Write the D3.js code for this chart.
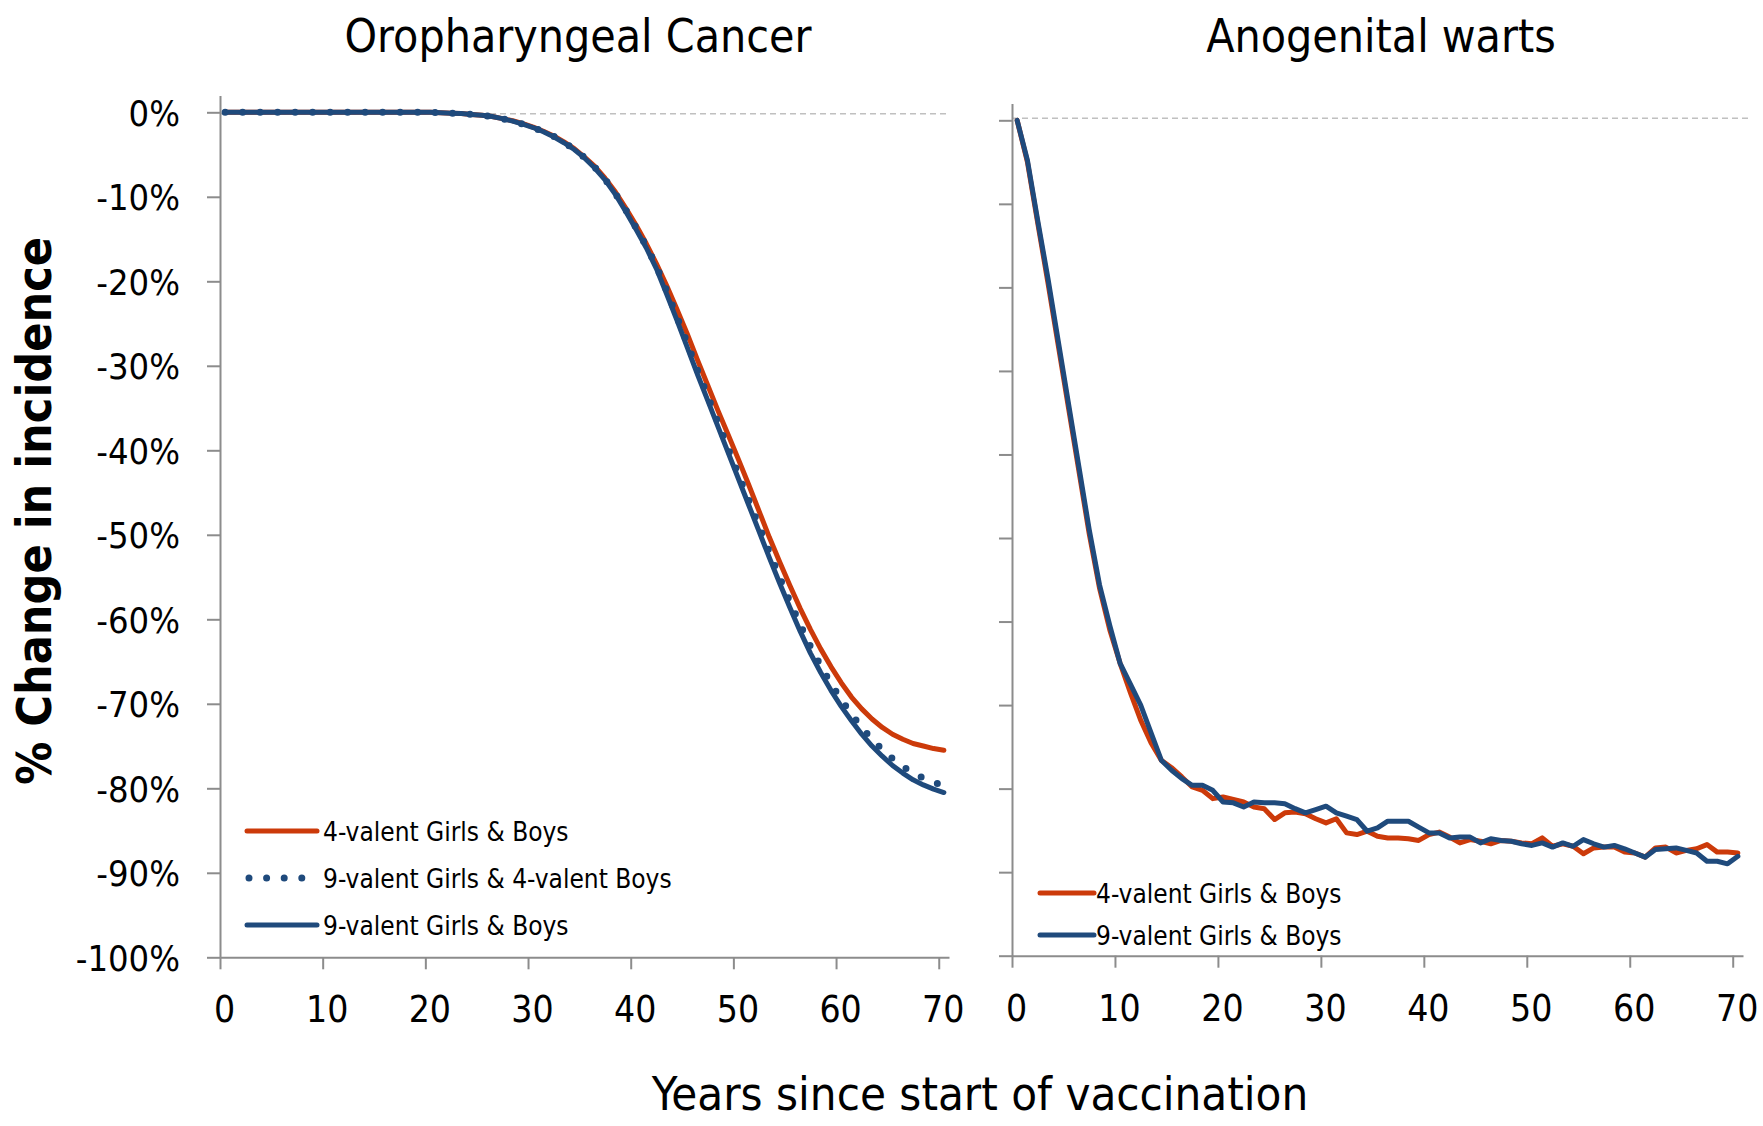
<!DOCTYPE html>
<html>
<head>
<meta charset="utf-8">
<script src="https://d3js.org/d3.v7.min.js"></script>
<style>
body { margin:0; background:#ffffff; }
svg text {
	font-family: "DejaVu Sans Condensed", "DejaVu Sans", sans-serif;
	font-stretch: condensed;
	fill: #000000;
}
</style>
</head>
<body>
<svg id="viz" width="1763" height="1126"></svg>
<script>
// years are mid-year points, 0.5 .. 70.5
var years = [0.5,1.5,2.5,3.5,4.5,5.5,6.5,7.5,8.5,9.5,10.5,11.5,12.5,13.5,14.5,15.5,16.5,17.5,18.5,19.5,
	20.5,21.5,22.5,23.5,24.5,25.5,26.5,27.5,28.5,29.5,30.5,31.5,32.5,33.5,34.5,35.5,36.5,37.5,38.5,39.5,
	40.5,41.5,42.5,43.5,44.5,45.5,46.5,47.5,48.5,49.5,50.5,51.5,52.5,53.5,54.5,55.5,56.5,57.5,58.5,59.5,
	60.5,61.5,62.5,63.5,64.5,65.5,66.5,67.5,68.5,69.5,70.5];

var xTicks = [0,10,20,30,40,50,60,70];
var yTicks = [0,-10,-20,-30,-40,-50,-60,-70,-80,-90,-100];

// Oropharyngeal cancer, % change
var opc4v = [0,0,0,0,0,0,0,0,0,0,0,0,0,0,0,0,0,0,0,0,0,
	-0.05,-0.1,-0.15,-0.25,-0.35,-0.5,-0.75,-1.0,-1.35,-1.75,-2.25,-2.8,-3.5,-4.3,-5.3,-6.4,-7.8,-9.4,-11.3,-13.3,
	-15.5,-17.9,-20.5,-23.3,-26.2,-29.3,-32.3,-35.3,-38.2,-41.1,-44.1,-47.2,-50.3,-53.2,-56.0,-58.7,-61.2,-63.5,-65.6,-67.5,
	-69.2,-70.6,-71.8,-72.8,-73.6,-74.2,-74.7,-75.0,-75.3,-75.5];
var opc9g4b = [0,0,0,0,0,0,0,0,0,0,0,0,0,0,0,0,0,0,0,0,0,
	-0.05,-0.1,-0.15,-0.25,-0.35,-0.5,-0.75,-1.05,-1.4,-1.8,-2.3,-2.85,-3.55,-4.35,-5.35,-6.5,-7.9,-9.6,-11.5,-13.6,
	-15.8,-18.2,-21.1,-24.2,-27.3,-30.5,-33.6,-36.7,-39.8,-42.9,-45.9,-49.0,-52.0,-55.0,-57.9,-60.6,-63.2,-65.5,-67.6,-69.5,
	-71.2,-72.8,-74.2,-75.4,-76.5,-77.4,-78.2,-78.8,-79.3,-79.7];
var opc9v = [0,0,0,0,0,0,0,0,0,0,0,0,0,0,0,0,0,0,0,0,0,
	-0.05,-0.1,-0.15,-0.25,-0.35,-0.5,-0.75,-1.05,-1.4,-1.8,-2.3,-2.9,-3.6,-4.4,-5.4,-6.6,-8.0,-9.7,-11.7,-13.8,
	-16.0,-18.5,-21.5,-24.6,-27.8,-31.0,-34.1,-37.2,-40.3,-43.4,-46.5,-49.6,-52.7,-55.7,-58.6,-61.4,-64.0,-66.3,-68.4,-70.3,
	-72.0,-73.6,-75.0,-76.2,-77.3,-78.2,-79.0,-79.6,-80.1,-80.5];

// Anogenital warts, % change
var aw4v = [0,-5.0,-12.3,-19.5,-27,-34.5,-42,-49.5,-56,-61,-65,-68.5,-71.8,-74.5,-76.6,-77.5,-78.6,-79.8,-80.2,-81.2,
	-81.0,-81.3,-81.6,-82.2,-82.4,-83.7,-82.9,-82.8,-83.0,-83.6,-84.1,-83.6,-85.3,-85.5,-85.1,-85.7,-85.9,-85.9,-86.0,-86.2,
	-85.5,-85.2,-85.8,-86.5,-86.1,-86.3,-86.6,-86.2,-86.3,-86.5,-86.6,-85.9,-86.9,-86.6,-86.9,-87.8,-87.1,-87.0,-87.0,-87.6,
	-87.7,-88.2,-87.1,-87.0,-87.7,-87.4,-87.2,-86.7,-87.6,-87.6,-87.7];
var aw9v = [0,-4.8,-12,-19,-26.5,-34,-41.5,-49,-55.6,-60.5,-65,-67.5,-70,-73.3,-76.6,-77.8,-78.8,-79.6,-79.6,-80.2,
	-81.6,-81.7,-82.2,-81.6,-81.7,-81.7,-81.8,-82.4,-82.9,-82.5,-82.1,-82.9,-83.3,-83.7,-85.1,-84.7,-83.9,-83.9,-83.9,-84.6,
	-85.3,-85.3,-85.9,-85.8,-85.8,-86.5,-86.0,-86.2,-86.3,-86.6,-86.8,-86.5,-87.0,-86.5,-86.9,-86.1,-86.6,-87.0,-86.8,-87.2,
	-87.7,-88.2,-87.3,-87.2,-87.1,-87.4,-87.7,-88.7,-88.7,-89.0,-88.1];

var titles = ["Oropharyngeal Cancer", "Anogenital warts"];
var seriesNames = ["4-valent Girls & Boys", "9-valent Girls & 4-valent Boys", "9-valent Girls & Boys"];

var RED = "#cc3a0a", BLUE = "#1f4a7c", AXIS = "#8c8c8c";

var svg = d3.select("#viz");

function drawPanel(opt) {
	var x = d3.scaleLinear().domain([0,71]).range(opt.xr);
	var y = d3.scaleLinear().domain([-100,2]).range(opt.yr);
	var g = svg.append("g");

	// zero reference line
	g.append("line")
		.attr("x1", x(0)).attr("x2", x(71) + opt.zeroExtra)
		.attr("y1", y(0) + opt.zeroShift).attr("y2", y(0) + opt.zeroShift)
		.attr("stroke", "#c0c0c0").attr("stroke-width", 1.6).attr("stroke-dasharray", "6,4");

	var xAxis = d3.axisBottom(x).tickValues(xTicks).tickSize(12).tickSizeOuter(0).tickFormat(d3.format("d"));
	var yAxis = d3.axisLeft(y).tickValues(yTicks).tickSize(13).tickSizeOuter(0)
		.tickFormat(opt.yLabels ? function(d) { return d + "%"; } : function() { return ""; });

	var gx = g.append("g").attr("transform", "translate(0," + y(-100) + ")").call(xAxis);
	var gy = g.append("g").attr("transform", "translate(" + x(0) + ",0)").call(yAxis);
	[gx, gy].forEach(function(a) {
		a.select(".domain").attr("stroke", AXIS).attr("stroke-width", 2);
		a.selectAll(".tick line").attr("stroke", AXIS).attr("stroke-width", 2);
	});
	gx.selectAll(".tick text").attr("y", 65).attr("dy", 0).attr("dx", 4)
		.attr("font-size", 37).attr("font-family", null);
	gy.selectAll(".tick text").attr("x", -40).attr("dy", "0.36em")
		.attr("font-size", 36).attr("font-family", null);

	var line = d3.line().x(function(d) { return x(d[0]); }).y(function(d) { return y(d[1]); });
	opt.series.forEach(function(s) {
		var p = g.append("path")
			.attr("d", line(d3.zip(years, s.values)))
			.attr("fill", "none").attr("stroke", s.color)
			.attr("stroke-linejoin", "round");
		if (s.dotted) {
			p.attr("stroke-width", 7).attr("stroke-linecap", "round").attr("stroke-dasharray", "0,17.5");
		} else {
			p.attr("stroke-width", 5).attr("stroke-linecap", "round");
		}
	});

	svg.append("text").text(opt.title)
		.attr("x", opt.titleX).attr("y", 52)
		.attr("text-anchor", "middle").attr("font-size", 46);

	// legend
	var lg = g.append("g");
	opt.legend.forEach(function(s, i) {
		var ly = opt.legendY + i * opt.legendGap;
		var l = lg.append("line")
			.attr("x1", opt.legendX0).attr("x2", opt.legendX1)
			.attr("y1", ly).attr("y2", ly)
			.attr("stroke", s.color).attr("stroke-linecap", "round");
		if (s.dotted) {
			l.attr("stroke-width", 7).attr("stroke-dasharray", "0,17.6").attr("x1", opt.legendX0 + 2);
		} else {
			l.attr("stroke-width", 5);
		}
		lg.append("text").text(s.name)
			.attr("x", opt.legendTextX).attr("y", ly + 9.5)
			.attr("font-size", 26);
	});
}

drawPanel({
	xr: [220, 949], yr: [957.3, 95.4], title: titles[0], titleX: 578,
	yLabels: true, zeroShift: 1.5, zeroExtra: 1,
	series: [
		{values: opc4v, color: RED},
		{values: opc9v, color: BLUE},
		{values: opc9g4b, color: BLUE, dotted: true}
	],
	legend: [
		{name: seriesNames[0], color: RED},
		{name: seriesNames[1], color: BLUE, dotted: true},
		{name: seriesNames[2], color: BLUE}
	],
	legendY: 831, legendGap: 47, legendX0: 247, legendX1: 317, legendTextX: 323
});

drawPanel({
	xr: [1012, 1743], yr: [955.7, 103.6], title: titles[1], titleX: 1381,
	yLabels: false, zeroShift: -2, zeroExtra: 6,
	series: [
		{values: aw4v, color: RED},
		{values: aw9v, color: BLUE}
	],
	legend: [
		{name: seriesNames[0], color: RED},
		{name: seriesNames[2], color: BLUE}
	],
	legendY: 893, legendGap: 42, legendX0: 1040, legendX1: 1094, legendTextX: 1096
});

svg.append("text").text("% Change in incidence")
	.attr("transform", "translate(51,511) rotate(-90)")
	.attr("text-anchor", "middle").attr("font-size", 48).attr("font-weight", "bold");

svg.append("text").text("Years since start of vaccination")
	.attr("x", 980).attr("y", 1110)
	.attr("text-anchor", "middle").attr("font-size", 47);
</script>
</body>
</html>
